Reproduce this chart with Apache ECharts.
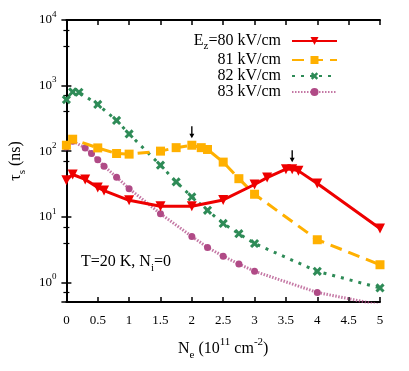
<!DOCTYPE html>
<html>
<head>
<meta charset="utf-8">
<script src="https://cdn.jsdelivr.net/npm/echarts@6/dist/echarts.min.js"></script>
<style>
    html, body { margin: 0; padding: 0; background: #ffffff; }
    #chart { width: 409px; height: 371px; }
</style>
</head>
<body>
<div id="chart"></div>
<script>
    // N_e (10^11 cm^-2) vs tau_s (ns), one pair of arrays per E_z
    const ez80X = [0, 0.1, 0.3, 0.5, 0.6, 1.0, 1.5, 2.0, 2.5, 3.0, 3.2, 3.5, 3.6, 3.7, 4.0, 5.0];
    const ez80Y = [36, 44, 37, 28, 25, 17.8, 14.4, 14.4, 18, 31, 39.5, 53, 53, 50, 32, 6.6];

    const ez81X = [0, 0.1, 0.5, 0.8, 1.0, 1.5, 1.75, 2.0, 2.15, 2.25, 2.5, 2.75, 3.0, 4.0, 5.0];
    const ez81Y = [123, 152, 112, 92, 90, 100, 113, 123, 113, 106, 68, 38, 22, 4.45, 1.85];

    const ez82X = [0, 0.1, 0.2, 0.5, 0.8, 1.0, 1.5, 1.75, 2.0, 2.25, 2.5, 2.75, 3.0, 4.0, 5.0];
    const ez82Y = [610, 800, 790, 515, 294, 183, 61, 34, 20, 12.5, 7.9, 5.5, 3.9, 1.47, 0.82];

    const ez83X = [0, 0.1, 0.3, 0.4, 0.5, 0.6, 0.8, 1.0, 1.5, 2.0, 2.25, 2.5, 2.75, 3.0, 4.0, 5.0];
    const ez83Y = [116, 142, 112, 92, 74, 59, 40, 26.8, 11.1, 5.0, 3.4, 2.5, 1.9, 1.47, 0.70, 0.45];

    const seriesNames = ['Ez=80 kV/cm', '81 kV/cm', '82 kV/cm', '83 kV/cm'];
    // peaks marked with a small arrow
    const arrowMarks81 = [[2.0, 123]];
    const arrowMarks80 = [[3.6, 53]];

    const xMin = 0, xMax = 5, xStep = 0.5;
    const yMin = 0.5, yMax = 10000;

    const serif = 'Liberation Serif';
    const toPairs = (xs, ys) => xs.map((x, i) => [x, ys[i]]);
    const arrowPath = 'path://M-0.6,0 L0.6,0 L0.6,7 L2.2,7 L0,11 L-2.2,7 L-0.6,7 Z';
    const crossPath = 'path://M-1.2,-4 L1.2,-4 L1.2,-1.2 L4,-1.2 L4,1.2 L1.2,1.2 L1.2,4 L-1.2,4 L-1.2,1.2 L-4,1.2 L-4,-1.2 L-1.2,-1.2 Z';

    const chart = echarts.init(document.getElementById('chart'));

    const tickStyle = { show: true, inside: true, length: 5, lineStyle: { color: '#000', width: 1.5 } };
    const lineAxis = { show: true, lineStyle: { color: '#000', width: 2 } };

    chart.setOption({
        animation: false,
        backgroundColor: '#ffffff',
        grid: { left: 61, right: 29, top: 20, bottom: 69 },
        title: {
            text: '{n|T=20 K, N}{sub|i}{n|=0}',
            left: 76, top: 245,
            textStyle: {
                fontWeight: 'normal',
                rich: {
                    n: { fontFamily: serif, fontSize: 16, fontWeight: 'normal', lineHeight: 24, color: '#000' },
                    sub: { fontFamily: serif, fontSize: 11, fontWeight: 'normal', lineHeight: 12, verticalAlign: 'bottom', color: '#000' }
                }
            }
        },
        legend: {
            data: seriesNames,
            orient: 'vertical',
            align: 'right',
            right: 71,
            top: 33,
            padding: 0,
            itemGap: 0,
            itemWidth: 45,
            itemHeight: 10,
            selectedMode: false,
            formatter: function (name) {
                if (name.indexOf('Ez') === 0) {
                    return '{n|E}{sub|z}{n|' + name.slice(2) + '}';
                }
                return '{n|' + name + '}';
            },
            textStyle: {
                width: 100,
                padding: [0, 6, 0, 0],
                rich: {
                    n: { fontFamily: serif, fontSize: 16, lineHeight: 22, color: '#000' },
                    sub: { fontFamily: serif, fontSize: 11, lineHeight: 11, verticalAlign: 'bottom', color: '#000' }
                }
            }
        },
        xAxis: [{
            type: 'value',
            min: xMin, max: xMax, interval: xStep,
            name: '{n|N}{sub|e}{n| (10}{sup|11}{n| cm}{sup|-2}{n|)}',
            nameLocation: 'middle',
            nameGap: 35,
            nameTextStyle: {
                rich: {
                    n: { fontFamily: serif, fontSize: 16, lineHeight: 24, color: '#000' },
                    sub: { fontFamily: serif, fontSize: 11, lineHeight: 12, verticalAlign: 'bottom', color: '#000' },
                    sup: { fontFamily: serif, fontSize: 11, lineHeight: 16, verticalAlign: 'top', color: '#000' }
                }
            },
            axisLine: lineAxis,
            axisTick: tickStyle,
            splitLine: { show: false },
            axisLabel: { fontFamily: serif, fontSize: 13, color: '#000', margin: 12 }
        }, {
            type: 'value',
            position: 'top',
            min: xMin, max: xMax, interval: xStep,
            axisLine: lineAxis,
            axisTick: tickStyle,
            splitLine: { show: false },
            axisLabel: { show: false }
        }],
        yAxis: [{
            type: 'log',
            logBase: 10,
            min: yMin, max: yMax,
            name: '{n|τ}{sub|s}{n| (ns)}',
            nameLocation: 'middle',
            nameRotate: 90,
            nameGap: 32,
            nameTextStyle: {
                rich: {
                    n: { fontFamily: serif, fontSize: 16, lineHeight: 24, color: '#000' },
                    sub: { fontFamily: serif, fontSize: 11, lineHeight: 12, verticalAlign: 'bottom', color: '#000' }
                }
            },
            axisLine: lineAxis,
            axisTick: tickStyle,
            minorTick: { show: true, splitNumber: 3, length: 3, lineStyle: { color: '#000', width: 1.2 } },
            splitLine: { show: false },
            minorSplitLine: { show: false },
            axisLabel: {
                margin: 10,
                formatter: function (v) {
                    const l = Math.log10(v);
                    const e = Math.round(l);
                    if (Math.abs(l - e) > 1e-6) return '';
                    return '{b|10}{sup|' + e + '}';
                },
                rich: {
                    b: { fontFamily: serif, fontSize: 13, lineHeight: 20, color: '#000' },
                    sup: { fontFamily: serif, fontSize: 9, lineHeight: 12, verticalAlign: 'top', color: '#000' }
                }
            }
        }, {
            type: 'log',
            logBase: 10,
            position: 'right',
            min: yMin, max: yMax,
            axisLine: lineAxis,
            axisTick: tickStyle,
            minorTick: { show: true, splitNumber: 3, length: 3, lineStyle: { color: '#000', width: 1.2 } },
            splitLine: { show: false },
            axisLabel: { show: false }
        }],
        series: [{
            name: seriesNames[0],
            type: 'line',
            data: toPairs(ez80X, ez80Y),
            symbol: 'triangle',
            symbolRotate: 180,
            symbolSize: 10,
            color: '#ee0000',
            lineStyle: { width: 3, type: 'solid' },
            z: 5,
            markPoint: {
                symbol: arrowPath,
                symbolSize: [5, 12],
                symbolOffset: [0, -13],
                itemStyle: { color: '#000' },
                label: { show: false },
                data: arrowMarks80.map(c => ({ coord: c }))
            }
        }, {
            name: seriesNames[1],
            type: 'line',
            data: toPairs(ez81X, ez81Y),
            symbol: 'rect',
            symbolSize: 9,
            color: '#ffb000',
            lineStyle: { width: 3, type: [12, 7] },
            z: 4,
            markPoint: {
                symbol: arrowPath,
                symbolSize: [5, 12],
                symbolOffset: [0, -13],
                itemStyle: { color: '#000' },
                label: { show: false },
                data: arrowMarks81.map(c => ({ coord: c }))
            }
        }, {
            name: seriesNames[2],
            type: 'line',
            data: toPairs(ez82X, ez82Y),
            symbol: crossPath,
            symbolRotate: 45,
            symbolSize: 10,
            color: '#2e8b57',
            lineStyle: { width: 3, type: [3, 6] },
            z: 3
        }, {
            name: seriesNames[3],
            type: 'line',
            data: toPairs(ez83X, ez83Y),
            symbol: 'circle',
            symbolSize: 7,
            color: '#b04a86',
            lineStyle: { width: 3, type: [1.5, 1.5], opacity: 0.75 },
            z: 2
        }]
    });
</script>
</body>
</html>
